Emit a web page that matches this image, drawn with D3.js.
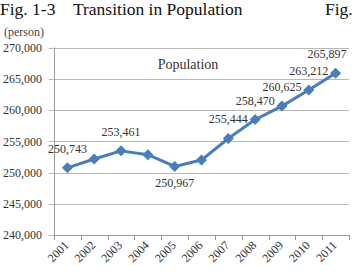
<!DOCTYPE html>
<html>
<head>
<meta charset="utf-8">
<script src="https://cdn.jsdelivr.net/npm/d3@7"></script>
<style>
  html, body { margin: 0; padding: 0; background: #fff; }
  svg { display: block; }
  text { font-family: "Liberation Serif", "Times New Roman", serif; }
</style>
</head>
<body>
<svg id="chart" width="353" height="271"></svg>
<script>
const years = ["2001","2002","2003","2004","2005","2006","2007","2008","2009","2010","2011"];
const population = [250743, 252160, 253461, 252850, 250967, 252000, 255444, 258470, 260625, 263212, 265897];
const labelledYears = ["2001","2003","2005","2007","2008","2009","2010","2011"];
const belowYears = ["2005"];
const yTicks = [240000, 245000, 250000, 255000, 260000, 265000, 270000];
const titleText = "Fig. 1-3\u2003Transition in Population";
const titleRight = "Fig.";
const unitText = "(person)";
const seriesName = "Population";

const svg = d3.select("#chart");
const plot = { left: 54, right: 349, top: 47.5, bottom: 235 };

const x = d3.scaleBand().domain(years).range([plot.left, plot.right]).padding(0);
const y = d3.scaleLinear().domain([240000, 270000]).range([plot.bottom, plot.top]);

// Title
svg.append("text").attr("x", 0).attr("y", 15).attr("font-size", 17.5).attr("fill", "#111")
  .text(titleText);
svg.append("text").attr("x", 325).attr("y", 15).attr("font-size", 17.5).attr("fill", "#111")
  .text(titleRight);
svg.append("text").attr("x", 4).attr("y", 36).attr("font-size", 12).attr("fill", "#444")
  .text(unitText);

// Gridlines
svg.append("g").selectAll("line").data(yTicks).join("line")
  .attr("x1", plot.left - 5).attr("x2", plot.right)
  .attr("y1", d => Math.round(y(d)) + 0.5).attr("y2", d => Math.round(y(d)) + 0.5)
  .attr("stroke", "#b8b8b8").attr("stroke-width", 1);

// Y axis
const yAxis = d3.axisLeft(y).tickValues(yTicks).tickSize(0).tickPadding(0)
  .tickFormat(d3.format(","));
const gy = svg.append("g").attr("transform", `translate(${plot.left - 12},0)`).call(yAxis);
gy.attr("font-family", null).attr("font-size", null);
gy.select(".domain").remove();
gy.selectAll("text").attr("font-size", 12).attr("fill", "#333");
svg.append("line").attr("x1", plot.left + 0.5).attr("x2", plot.left + 0.5)
  .attr("y1", plot.top).attr("y2", plot.bottom).attr("stroke", "#999");

// X axis
svg.append("line").attr("x1", plot.left).attr("x2", plot.right)
  .attr("y1", Math.round(plot.bottom) + 0.5).attr("y2", Math.round(plot.bottom) + 0.5)
  .attr("stroke", "#999");
const bounds = years.map(d => x(d)).concat([x(years[years.length - 1]) + x.bandwidth()]);
svg.append("g").selectAll("line").data(bounds).join("line")
  .attr("x1", d => Math.round(d) + 0.5).attr("x2", d => Math.round(d) + 0.5)
  .attr("y1", plot.bottom).attr("y2", plot.bottom + 5).attr("stroke", "#999");
svg.append("g").selectAll("text").data(years).join("text")
  .attr("transform", d => `translate(${x(d) + x.bandwidth() / 2 + 2},${plot.bottom + 11}) rotate(-45)`)
  .attr("text-anchor", "end").attr("font-size", 12).attr("fill", "#333")
  .text(d => d);

// Series line
const cx = d => x(d) + x.bandwidth() / 2;
const pts = years.map((yr, i) => ({ yr, v: population[i] }));
svg.append("path").datum(pts)
  .attr("d", d3.line().x(d => cx(d.yr)).y(d => y(d.v)))
  .attr("fill", "none").attr("stroke", "#4a7ebb").attr("stroke-width", 3)
  .attr("stroke-linejoin", "round");
svg.append("g").selectAll("path").data(pts).join("path")
  .attr("transform", d => `translate(${cx(d.yr)},${y(d.v)}) rotate(45)`)
  .attr("d", d3.symbol().type(d3.symbolSquare).size(46))
  .attr("fill", "#4a7ebb").attr("stroke", "#4a7ebb");

// Data labels
const fmt = d3.format(",");
svg.append("g").selectAll("text").data(pts.filter(d => labelledYears.includes(d.yr))).join("text")
  .attr("x", d => Math.min(cx(d.yr), 347 - 20))
  .attr("y", d => belowYears.includes(d.yr) ? y(d.v) + 21 : y(d.v) - 15)
  .attr("text-anchor", "middle").attr("font-size", 12).attr("fill", "#333")
  .text(d => fmt(d.v));

// Series name
svg.append("text").attr("x", 188).attr("y", 69).attr("text-anchor", "middle")
  .attr("font-size", 14).attr("fill", "#333").text(seriesName);
</script>
</body>
</html>
